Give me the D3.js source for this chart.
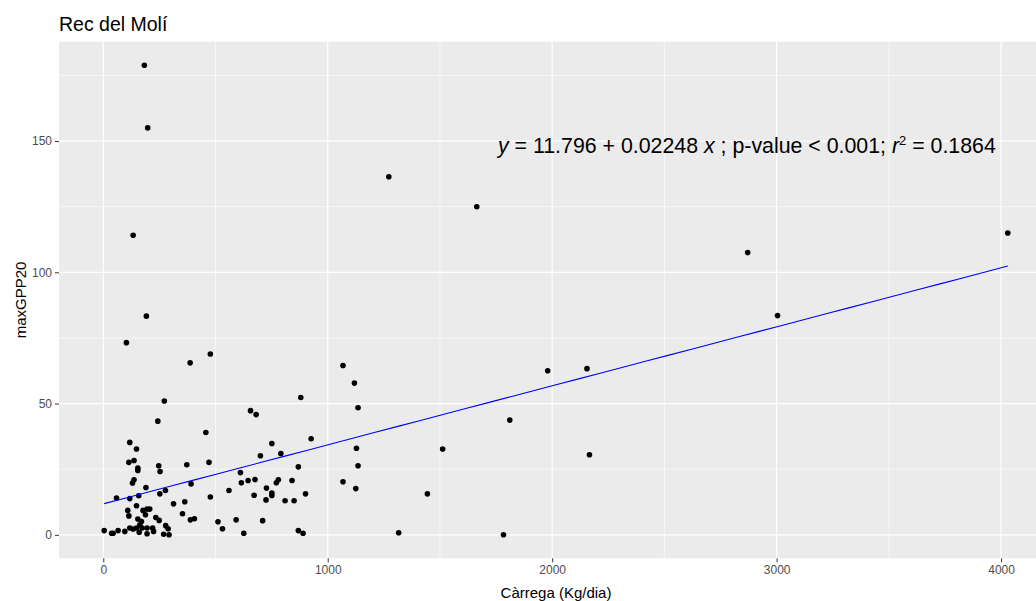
<!DOCTYPE html>
<html>
<head>
<meta charset="utf-8">
<script src="https://cdn.jsdelivr.net/npm/d3@7"></script>
<style>
  html, body { margin: 0; padding: 0; background: #fff; }
  svg { display: block; font-family: "Liberation Sans", Arial, sans-serif; }
</style>
</head>
<body>
<svg id="chart" width="1036" height="601"></svg>
<script>
// Observations: daily load (Kg/dia) against maxGPP20
const carrega = [
  183, 198, 133, 192, 103, 1272, 1664, 2871, 3004, 4030,
  1980, 2155, 1811, 1512, 2166, 1444, 1783, 1316, 1068, 1119,
  1135, 1128, 1135, 1068, 1125, 387, 477, 272, 243, 457,
  656, 681, 880, 926, 118, 148, 114, 137, 154, 154,
  247, 253, 372, 471, 751, 791, 700, 869, 611, 615,
  645, 676, 771, 780, 841, 672, 727, 751, 751, 725,
  810, 850, 901, 869, 890, 560, 477, 313, 363, 353,
  388, 406, 511, 531, 592, 710, 626, 391, 277, 252,
  190, 130, 137, 59, 118, 158, 148, 109, 114, 177,
  195, 207, 188, 154, 170, 163, 148, 133, 118, 96,
  66, 44, 37, 4, 160, 173, 195, 195, 220, 224,
  234, 249, 278, 289, 269, 293
];
const maxGPP20 = [
  178.9, 155.0, 114.1, 83.3, 73.2, 136.4, 125.0, 107.5, 83.5, 115.0,
  62.5, 63.3, 43.7, 32.7, 30.5, 15.6, 0.0, 0.8, 64.5, 57.8,
  48.4, 33.0, 26.3, 20.2, 17.6, 65.5, 68.9, 51.0, 43.3, 39.0,
  47.3, 45.8, 52.3, 36.6, 35.2, 32.7, 27.6, 28.3, 25.4, 24.5,
  26.3, 24.1, 26.7, 27.6, 34.8, 31.0, 30.1, 25.9, 23.7, 19.8,
  20.7, 21.1, 19.8, 21.0, 20.7, 15.1, 17.8, 15.9, 15.0, 13.3,
  13.0, 13.0, 15.6, 1.6, 0.6, 16.9, 14.4, 11.8, 12.6, 8.0,
  5.7, 6.1, 5.0, 2.3, 5.7, 5.4, 0.6, 19.4, 16.9, 15.6,
  18.0, 19.7, 21.0, 14.0, 13.8, 14.9, 11.1, 9.3, 7.2, 9.3,
  9.8, 9.8, 7.6, 6.0, 5.1, 3.8, 2.6, 2.2, 2.6, 1.3,
  1.6, 0.6, 0.6, 1.6, 1.0, 2.6, 0.4, 2.6, 2.6, 1.3,
  6.6, 5.5, 3.5, 2.3, 0.2, 0.0
];

// Fitted linear model
const intercept = 11.796;
const slope = 0.02248;

const xTicks = [0, 1000, 2000, 3000, 4000];
const xMinor = [500, 1500, 2500, 3500];
const yTicks = [0, 50, 100, 150];
const yMinor = [25, 75, 125, 175];

const titleText = "Rec del Molí";
const xTitle = "Càrrega (Kg/dia)";
const yTitle = "maxGPP20";

const svg = d3.select("#chart");
const panel = { left: 59, top: 41.7, right: 1053, bottom: 558.3 };

// 5% expansion on both axes
function expand(ext) {
  const pad = (ext[1] - ext[0]) * 0.05;
  return [ext[0] - pad, ext[1] + pad];
}
const x = d3.scaleLinear().domain(expand(d3.extent(carrega))).range([panel.left, panel.right]);
const y = d3.scaleLinear().domain(expand(d3.extent(maxGPP20))).range([panel.bottom, panel.top]);

// Panel background
svg.append("rect")
  .attr("x", panel.left).attr("y", panel.top)
  .attr("width", panel.right - panel.left).attr("height", panel.bottom - panel.top)
  .attr("fill", "#EBEBEB");

const grid = svg.append("g");
// Minor grid
grid.selectAll("line.xmin").data(xMinor).join("line")
  .attr("x1", d => x(d)).attr("x2", d => x(d))
  .attr("y1", panel.top).attr("y2", panel.bottom)
  .attr("stroke", "#fff").attr("stroke-width", 0.6);
grid.selectAll("line.ymin").data(yMinor).join("line")
  .attr("y1", d => y(d)).attr("y2", d => y(d))
  .attr("x1", panel.left).attr("x2", panel.right)
  .attr("stroke", "#fff").attr("stroke-width", 0.6);
// Major grid
grid.selectAll("line.xmaj").data(xTicks).join("line")
  .attr("x1", d => x(d)).attr("x2", d => x(d))
  .attr("y1", panel.top).attr("y2", panel.bottom)
  .attr("stroke", "#fff").attr("stroke-width", 1.2);
grid.selectAll("line.ymaj").data(yTicks).join("line")
  .attr("y1", d => y(d)).attr("y2", d => y(d))
  .attr("x1", panel.left).attr("x2", panel.right)
  .attr("stroke", "#fff").attr("stroke-width", 1.2);

// Axes
const xAxis = d3.axisBottom(x).tickValues(xTicks).tickFormat(d3.format("d")).tickSize(4).tickPadding(3);
const yAxis = d3.axisLeft(y).tickValues(yTicks).tickFormat(d3.format("d")).tickSize(4).tickPadding(3);

const gx = svg.append("g").attr("transform", `translate(0,${panel.bottom})`).call(xAxis);
const gy = svg.append("g").attr("transform", `translate(${panel.left},0)`).call(yAxis);
[gx, gy].forEach(g => {
  g.select(".domain").remove();
  g.selectAll(".tick line").attr("stroke", "#333333").attr("stroke-width", 1);
  g.selectAll(".tick text").attr("fill", "#4D4D4D")
    .style("font-size", "12px").style("font-family", "'Liberation Sans', Arial, sans-serif");
});

// Points
svg.append("g").selectAll("circle")
  .data(carrega.map((c, i) => [c, maxGPP20[i]]))
  .join("circle")
  .attr("cx", d => x(d[0]))
  .attr("cy", d => y(d[1]))
  .attr("r", 2.8)
  .attr("fill", "#000");

// Regression line across the range of the data
const xr = d3.extent(carrega);
const fitPts = d3.range(0, 41).map(i => xr[0] + (xr[1] - xr[0]) * i / 40);
svg.append("path")
  .datum(fitPts)
  .attr("fill", "none")
  .attr("stroke", "#0000FF")
  .attr("stroke-width", 1.1)
  .attr("d", d3.line().x(d => x(d)).y(d => y(intercept + slope * d)));

// Equation annotation
const eq = svg.append("text")
  .attr("x", 498).attr("y", 152.5)
  .style("font-size", "18.5px").attr("fill", "#000");
eq.append("tspan").style("font-style", "italic").text("y");
eq.append("tspan").text(` = ${intercept} + ${slope} `);
eq.append("tspan").style("font-style", "italic").text("x");
eq.append("tspan").text(" ; p-value < 0.001;  ");
eq.append("tspan").style("font-style", "italic").text("r");
eq.append("tspan").attr("dy", -8).style("font-size", "13px").text("2");
eq.append("tspan").attr("dy", 8).text(" = 0.1864");
// fit the annotation to its span
const eqW = eq.node().getComputedTextLength();
const targetW = 499;
if (eqW > 0) eq.style("font-size", (18.5 * targetW / eqW).toFixed(2) + "px");

// Titles
svg.append("text").attr("x", 59).attr("y", 30.5)
  .style("font-size", "19.5px").attr("fill", "#000").text(titleText);
svg.append("text").attr("x", (panel.left + panel.right) / 2).attr("y", 598)
  .attr("text-anchor", "middle").style("font-size", "15px").attr("fill", "#000").text(xTitle);
svg.append("text")
  .attr("transform", `translate(26,${(panel.top + panel.bottom) / 2}) rotate(-90)`)
  .attr("text-anchor", "middle").style("font-size", "15px").attr("fill", "#000").text(yTitle);
</script>
</body>
</html>
